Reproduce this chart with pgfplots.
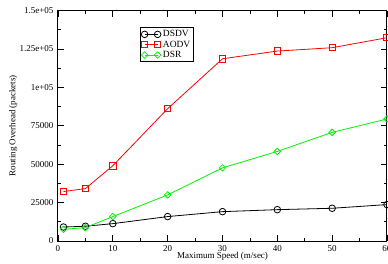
\documentclass[border=0pt]{standalone}
\usepackage{pgfplots}
\pgfplotsset{compat=1.18}
\usepackage{fontspec}
\setmainfont{Liberation Serif}
\definecolor{lgreen}{rgb}{0,0.95,0}
\begin{document}
\begin{tikzpicture}
\begin{axis}[
  scale only axis,
  width=329pt, height=230.5pt,
  xmin=0, xmax=60, ymin=0, ymax=150000,
  xtick={0,10,...,60},
  ytick={0,25000,...,150000},
  yticklabels={0,25000,50000,75000,1e+05,1.25e+05,1.5e+05},
  scaled y ticks=false,
  minor x tick num=1, minor y tick num=1,
  tick align=inside,
  major tick length=6pt, minor tick length=3pt,
  axis line style={line width=1pt},
  every tick/.style={black, line width=0.8pt},
  /pgf/number format/assume math mode=true,
  tick label style={font=\fontsize{9}{10}\selectfont},
  xticklabel style={yshift=-1pt},
  yticklabel style={xshift=-1pt},
  xlabel={Maximum Speed (m/sec)},
  ylabel={Routing Overhead (packets)},
  xlabel style={font=\fontsize{9}{10}\selectfont, at={(axis description cs:0.5,-0.068)}, anchor=center},
  ylabel style={font=\fontsize{9}{10}\selectfont, at={(axis description cs:-0.136,0.5)}, anchor=center},
  legend style={at={(axis description cs:0.249,0.928)}, anchor=north west,
    draw=black, line width=0.8pt, font=\fontsize{9.5}{10}\selectfont,
    inner sep=1pt, row sep=-1.5pt, cells={anchor=west}},
  legend image code/.code={\draw plot coordinates {(0pt,0pt) (13pt,0pt)};},
]
\addplot[black, line width=0.8pt, mark=o, mark size=3.3pt, mark options={solid}]
  coordinates {(1,9100) (5,9600) (10,11300) (20,15900) (30,19100) (40,20400) (50,21300) (60,23700)};
\addlegendentry{DSDV}
\addplot[red, line width=0.8pt, mark=square, mark size=3.2pt, mark options={solid}]
  coordinates {(1,32200) (5,34100) (10,49000) (20,86100) (30,118600) (40,123600) (50,125800) (60,132300)};
\addlegendentry{AODV}
\addplot[lgreen, line width=0.8pt, mark=square, mark size=2.3pt, mark options={solid, rotate=45}]
  coordinates {(1,7600) (5,8700) (10,15900) (20,30000) (30,47600) (40,58300) (50,70700) (60,79400)};
\addlegendentry{DSR}
\end{axis}
\pgfresetboundingbox
\path[use as bounding box] ([shift={(-58pt,-22pt)}]current axis.south west) rectangle ([shift={(1pt,10.5pt)}]current axis.north east);
\end{tikzpicture}
\end{document}
